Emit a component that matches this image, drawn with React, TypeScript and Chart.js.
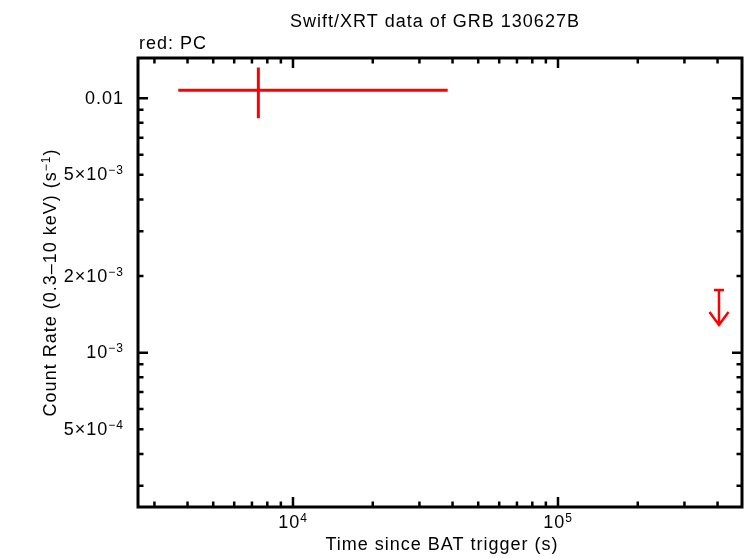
import { useEffect, useRef } from 'react'
import { Chart, registerables } from 'chart.js'

Chart.register(...registerables)

// PC mode point (time in s, rate in counts/s)
const pcTime = [7400]
const pcTimeLo = [3690]
const pcTimeHi = [38350]
const pcRate = [0.01075]
const pcRateLo = [0.008345]
const pcRateHi = [0.01319]

// PC upper limit
const ulTime = [405000]
const ulRate = [0.001764]

// axes
const xMin = 2601
const xMax = 494700
const yMin = 2.474e-4
const yMax = 0.01439

const xMajorTicks = [1e4, 1e5]
const xMajorExps = ['4', '5']
const yMajorTicks = [1e-2, 1e-3]
const yLabelTicks = [1e-2, 5e-3, 2e-3, 1e-3, 5e-4]
const yLabelBase = ['0.01', '5×10', '2×10', '10', '5×10']
const yLabelExps = ['', '−3', '−3', '−3', '−4']

const FONT = '"Liberation Sans", Arial, Helvetica, sans-serif'
const RED = '#ff0000'

type Seg = { t: string; sup?: boolean }

function setFont(ctx: CanvasRenderingContext2D, sup?: boolean) {
  ctx.font = `${sup ? 12 : 18}px ${FONT}`
  ;(ctx as any).letterSpacing = '1px'
}

function drawRich(ctx: CanvasRenderingContext2D, segs: Seg[], x: number, y: number, align: 'left' | 'center' | 'right') {
  const widths = segs.map(s => {
    setFont(ctx, s.sup)
    return ctx.measureText(s.t).width
  })
  const total = widths.reduce((a, b) => a + b, 0)
  let cx = align === 'right' ? x - total : align === 'center' ? x - total / 2 : x
  ctx.textAlign = 'left'
  ctx.textBaseline = 'alphabetic'
  segs.forEach((s, i) => {
    setFont(ctx, s.sup)
    ctx.fillText(s.t, cx, s.sup ? y - 6 : y)
    cx += widths[i]
  })
}

function minorTicks(lo: number, hi: number) {
  const out: number[] = []
  for (let e = Math.floor(Math.log10(lo)); e <= Math.ceil(Math.log10(hi)); e++) {
    for (let m = 2; m <= 9; m++) {
      const v = m * Math.pow(10, e)
      if (v > lo && v < hi) out.push(v)
    }
  }
  return out
}

const decorPlugin = {
  id: 'decor',
  afterDatasetsDraw(chart: any) {
    const { ctx, scales } = chart
    const xs = scales.x
    const ys = scales.y
    ctx.save()
    ctx.strokeStyle = RED
    ctx.lineCap = 'butt'
    ctx.lineWidth = 3
    pcTime.forEach((t, i) => {
      const px = xs.getPixelForValue(t)
      const py = ys.getPixelForValue(pcRate[i])
      ctx.beginPath()
      ctx.moveTo(xs.getPixelForValue(pcTimeLo[i]), py)
      ctx.lineTo(xs.getPixelForValue(pcTimeHi[i]), py)
      ctx.moveTo(px, ys.getPixelForValue(pcRateLo[i]))
      ctx.lineTo(px, ys.getPixelForValue(pcRateHi[i]))
      ctx.stroke()
    })
    ctx.lineWidth = 2.5
    ulTime.forEach((t, i) => {
      const px = xs.getPixelForValue(t)
      const py = ys.getPixelForValue(ulRate[i])
      ctx.beginPath()
      ctx.moveTo(px - 5, py)
      ctx.lineTo(px + 5, py)
      ctx.moveTo(px, py)
      ctx.lineTo(px, py + 35)
      ctx.moveTo(px - 9.5, py + 22)
      ctx.lineTo(px, py + 35)
      ctx.lineTo(px + 9.5, py + 22)
      ctx.stroke()
    })
    ctx.restore()
  },
  afterDraw(chart: any) {
    const { ctx, chartArea: a, scales } = chart
    const xs = scales.x
    const ys = scales.y
    ctx.save()
    ctx.strokeStyle = '#000'
    ctx.fillStyle = '#000'
    ctx.lineWidth = 2.5
    ctx.beginPath()
    const major = 10
    const minor = 5.5
    xMajorTicks.forEach(v => {
      const p = xs.getPixelForValue(v)
      ctx.moveTo(p, a.bottom); ctx.lineTo(p, a.bottom - major)
      ctx.moveTo(p, a.top); ctx.lineTo(p, a.top + major)
    })
    minorTicks(xMin, xMax).forEach(v => {
      const p = xs.getPixelForValue(v)
      ctx.moveTo(p, a.bottom); ctx.lineTo(p, a.bottom - minor)
      ctx.moveTo(p, a.top); ctx.lineTo(p, a.top + minor)
    })
    yMajorTicks.forEach(v => {
      const p = ys.getPixelForValue(v)
      ctx.moveTo(a.left, p); ctx.lineTo(a.left + major, p)
      ctx.moveTo(a.right, p); ctx.lineTo(a.right - major, p)
    })
    minorTicks(yMin, yMax).forEach(v => {
      const p = ys.getPixelForValue(v)
      ctx.moveTo(a.left, p); ctx.lineTo(a.left + minor, p)
      ctx.moveTo(a.right, p); ctx.lineTo(a.right - minor, p)
    })
    ctx.stroke()

    ctx.lineWidth = 3
    ctx.strokeRect(a.left, a.top, a.right - a.left, a.bottom - a.top)

    xMajorTicks.forEach((v, i) => {
      drawRich(ctx, [{ t: '10' }, { t: xMajorExps[i], sup: true }], xs.getPixelForValue(v), a.bottom + 21, 'center')
    })
    yLabelTicks.forEach((v, i) => {
      const segs: Seg[] = [{ t: yLabelBase[i] }]
      if (yLabelExps[i]) segs.push({ t: yLabelExps[i], sup: true })
      drawRich(ctx, segs, 124, ys.getPixelForValue(v) + 5.5, 'right')
    })

    drawRich(ctx, [{ t: 'Swift/XRT data of GRB 130627B' }], 435, 26.5, 'center')
    drawRich(ctx, [{ t: 'red: PC' }], 139, 48.5, 'left')
    drawRich(ctx, [{ t: 'Time since BAT trigger (s)' }], 442, 550, 'center')

    ctx.translate(56, 282.5)
    ctx.rotate(-Math.PI / 2)
    drawRich(ctx, [{ t: 'Count Rate (0.3–10 keV) (s' }, { t: '−1', sup: true }, { t: ')' }], 0, 0, 'center')
    ctx.restore()
  },
}

export default function App() {
  const ref = useRef<HTMLCanvasElement>(null)
  const chart = useRef<Chart | null>(null)

  useEffect(() => {
    if (!ref.current) return
    chart.current?.destroy()

    chart.current = new Chart(ref.current, {
      type: 'scatter',
      data: {
        datasets: [
          {
            label: 'PC',
            data: pcTime.map((t, i) => ({ x: t, y: pcRate[i] })),
            pointRadius: 0,
            borderColor: RED,
            backgroundColor: RED,
          },
          {
            label: 'PC upper limit',
            data: ulTime.map((t, i) => ({ x: t, y: ulRate[i] })),
            pointRadius: 0,
            borderColor: RED,
            backgroundColor: RED,
          },
        ],
      },
      options: {
        responsive: false,
        animation: false,
        devicePixelRatio: 1,
        layout: { padding: { left: 138, right: 4, top: 58, bottom: 51 } },
        scales: {
          x: { type: 'logarithmic', min: xMin, max: xMax, display: false },
          y: { type: 'logarithmic', min: yMin, max: yMax, display: false },
        },
        plugins: { legend: { display: false }, tooltip: { enabled: false }, title: { display: false } },
      },
      plugins: [decorPlugin],
    })
    return () => chart.current?.destroy()
  }, [])

  return (
    <div style={{ position: 'absolute', left: 0, top: 0, width: 746, height: 558, background: '#fff' }}>
      <canvas ref={ref} width={746} height={558} role="img" aria-label="Swift/XRT light curve of GRB 130627B" />
    </div>
  )
}
